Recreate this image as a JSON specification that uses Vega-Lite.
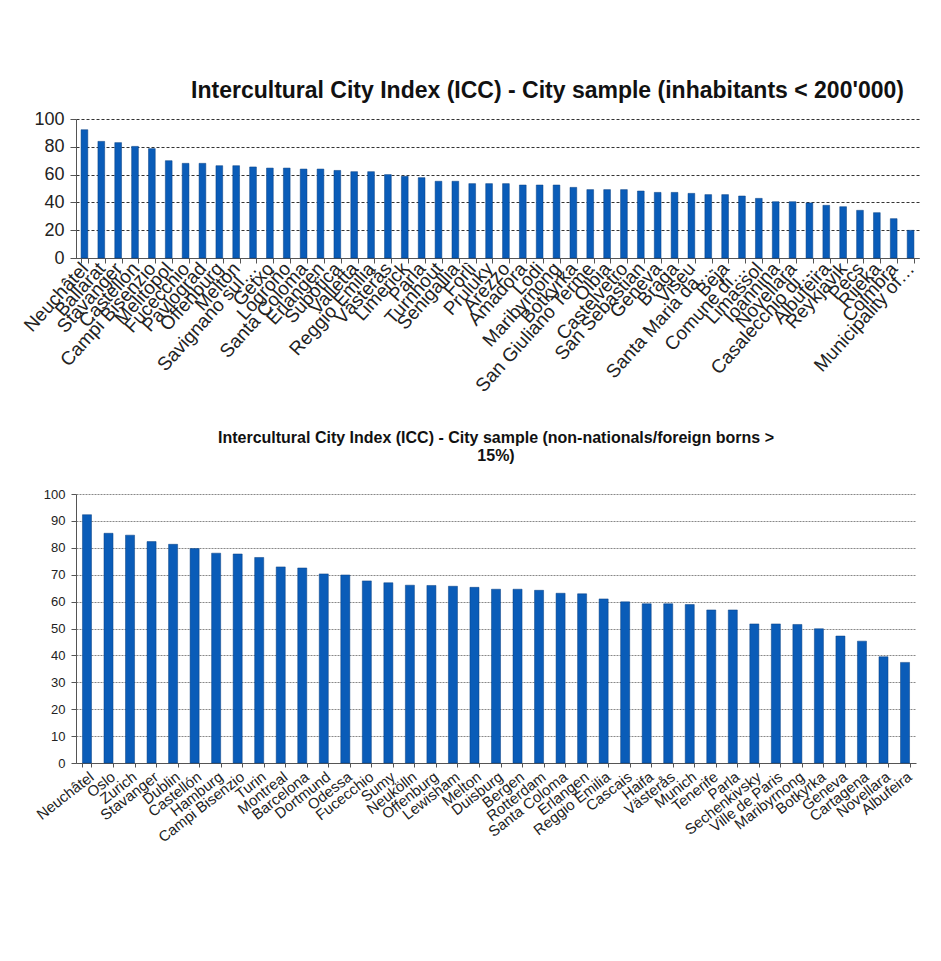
{
  "$schema": "https://vega.github.io/schema/vega-lite/v6.json",
  "padding": {"left": 20, "top": 80, "right": 10, "bottom": 5},
  "background": "white",
  "spacing": 34,
  "datasets": {
    "small": [
      {"city": "Neuchâtel", "icc": 92.3},
      {"city": "Ballarat", "icc": 83.9},
      {"city": "Stavanger", "icc": 83},
      {"city": "Castellón", "icc": 80.3},
      {"city": "Campi Bisenzio", "icc": 78.7},
      {"city": "Melitopol", "icc": 70},
      {"city": "Fucecchio", "icc": 68.1},
      {"city": "Pavlograd", "icc": 68.1},
      {"city": "Offenburg", "icc": 66.4},
      {"city": "Melton", "icc": 66.4},
      {"city": "Savignano sul…", "icc": 65.5},
      {"city": "Getxo", "icc": 64.7},
      {"city": "Logroño", "icc": 64.7},
      {"city": "Santa Coloma", "icc": 64},
      {"city": "Erlangen", "icc": 64},
      {"city": "Subotica", "icc": 63},
      {"city": "Valletta", "icc": 62.1},
      {"city": "Reggio Emilia", "icc": 62.1},
      {"city": "Västerås", "icc": 60},
      {"city": "Limerick", "icc": 58.8},
      {"city": "Parla", "icc": 57.8},
      {"city": "Turnhout", "icc": 55.2},
      {"city": "Senigallia", "icc": 55.2},
      {"city": "Forlì", "icc": 53.5},
      {"city": "Pruluky", "icc": 53.5},
      {"city": "Arezzo", "icc": 53.5},
      {"city": "Amadora", "icc": 52.5},
      {"city": "Lodi", "icc": 52.5},
      {"city": "Maribyrnong", "icc": 52.5},
      {"city": "Botkyrka", "icc": 50.8},
      {"city": "San Giuliano Terme", "icc": 49.2},
      {"city": "Olbia", "icc": 49.2},
      {"city": "Castelvetro", "icc": 49.2},
      {"city": "San Sebastian", "icc": 48.2},
      {"city": "Geneva", "icc": 47.2},
      {"city": "Braga", "icc": 47.2},
      {"city": "Viseu", "icc": 46.5},
      {"city": "Santa Maria da…", "icc": 45.6},
      {"city": "Beja", "icc": 45.6},
      {"city": "Comune di…", "icc": 44.6},
      {"city": "Limassol", "icc": 42.9},
      {"city": "Ioannina", "icc": 40.5},
      {"city": "Novellara", "icc": 40.5},
      {"city": "Casalecchio di…", "icc": 39.6},
      {"city": "Albufeira", "icc": 37.9},
      {"city": "Reykjavik", "icc": 36.9},
      {"city": "Pécs", "icc": 34.3},
      {"city": "Rijeka", "icc": 32.6},
      {"city": "Coimbra", "icc": 28.3},
      {"city": "Municipality of…", "icc": 19.9}
    ],
    "foreign": [
      {"city": "Neuchâtel", "icc": 92.3},
      {"city": "Oslo", "icc": 85.4},
      {"city": "Zurich", "icc": 84.7},
      {"city": "Stavanger", "icc": 82.3},
      {"city": "Dublin", "icc": 81.3},
      {"city": "Castellón", "icc": 79.7},
      {"city": "Hamburg", "icc": 78},
      {"city": "Campi Bisenzio", "icc": 77.7},
      {"city": "Turin", "icc": 76.4},
      {"city": "Montreal", "icc": 72.9},
      {"city": "Barcelona", "icc": 72.5},
      {"city": "Dortmund", "icc": 70.3},
      {"city": "Odessa", "icc": 69.9},
      {"city": "Fucecchio", "icc": 67.7},
      {"city": "Sumy", "icc": 67},
      {"city": "Neukölln", "icc": 66.1},
      {"city": "Offenburg", "icc": 66},
      {"city": "Lewisham", "icc": 65.7},
      {"city": "Melton", "icc": 65.3},
      {"city": "Duisburg", "icc": 64.6},
      {"city": "Bergen", "icc": 64.6},
      {"city": "Rotterdam", "icc": 64.2},
      {"city": "Santa Coloma", "icc": 63.1},
      {"city": "Erlangen", "icc": 62.9},
      {"city": "Reggio Emilia", "icc": 61},
      {"city": "Cascais", "icc": 59.9},
      {"city": "Haifa", "icc": 59.2},
      {"city": "Västerås", "icc": 59.2},
      {"city": "Munich", "icc": 58.9},
      {"city": "Tenerife", "icc": 56.9},
      {"city": "Parla", "icc": 56.9},
      {"city": "Sechenkivsky", "icc": 51.7},
      {"city": "Ville de Paris", "icc": 51.7},
      {"city": "Maribyrnong", "icc": 51.5},
      {"city": "Botkyrka", "icc": 49.9},
      {"city": "Geneva", "icc": 47.2},
      {"city": "Cartagena", "icc": 45.3},
      {"city": "Novellara", "icc": 39.5},
      {"city": "Albufeira", "icc": 37.4}
    ]
  },
  "vconcat": [
    {
      "data": {"name": "small"},
      "width": 843,
      "height": 139,
      "title": {
        "text": "Intercultural City Index (ICC) - City sample (inhabitants < 200'000)",
        "font": "Liberation Sans",
        "fontSize": 23,
        "fontWeight": "bold",
        "color": "#111",
        "anchor": "middle",
        "dx": 50,
        "offset": 7
      },
      "mark": {"type": "bar", "color": "#0a5cb8", "stroke": "#063f80", "strokeWidth": 0.5},
      "encoding": {
        "x": {
          "field": "city", "type": "nominal", "sort": null,
          "scale": {"paddingInner": 0.6, "paddingOuter": 0.3},
          "axis": {
            "title": null, "labelAngle": -48, "labelFont": "Liberation Sans",
            "labelFontSize": 19, "labelColor": "#222", "labelLimit": 250,
            "tickBand": "extent", "tickColor": "#555", "tickSize": 5,
            "domainColor": "#555", "labelPadding": 2
          }
        },
        "y": {
          "field": "icc", "type": "quantitative",
          "scale": {"domain": [0, 100]},
          "axis": {
            "title": null, "values": [0, 20, 40, 60, 80, 100],
            "labelFont": "Liberation Sans", "labelFontSize": 18, "labelColor": "#222",
            "gridColor": "#333", "gridDash": [3, 2], "gridWidth": 1,
            "tickColor": "#555", "tickSize": 6, "domainColor": "#555", "labelPadding": 6
          }
        }
      }
    },
    {
      "data": {"name": "foreign"},
      "width": 840,
      "height": 269,
      "title": {
        "text": ["Intercultural City Index (ICC) - City sample (non-nationals/foreign borns >", "15%)"],
        "font": "Liberation Sans",
        "fontSize": 16,
        "fontWeight": "bold",
        "color": "#111",
        "anchor": "middle",
        "offset": 24,
        "lineHeight": 18
      },
      "mark": {"type": "bar", "color": "#0a5cb8", "stroke": "#063f80", "strokeWidth": 0.5},
      "encoding": {
        "x": {
          "field": "city", "type": "nominal", "sort": null,
          "scale": {"paddingInner": 0.58, "paddingOuter": 0.3},
          "axis": {
            "title": null, "labelAngle": -38, "labelFont": "Liberation Sans",
            "labelFontSize": 15, "labelColor": "#222", "labelLimit": 200,
            "tickBand": "extent", "tickColor": "#555", "tickSize": 4,
            "domainColor": "#555", "labelPadding": 2
          }
        },
        "y": {
          "field": "icc", "type": "quantitative",
          "scale": {"domain": [0, 100]},
          "axis": {
            "title": null, "values": [0, 10, 20, 30, 40, 50, 60, 70, 80, 90, 100],
            "labelFont": "Liberation Sans", "labelFontSize": 13, "labelColor": "#222",
            "gridColor": "#888", "gridDash": [2, 1], "gridWidth": 1,
            "tickColor": "#555", "tickSize": 5, "domainColor": "#555", "labelPadding": 6
          }
        }
      }
    }
  ],
  "config": {"view": {"stroke": null}}
}
